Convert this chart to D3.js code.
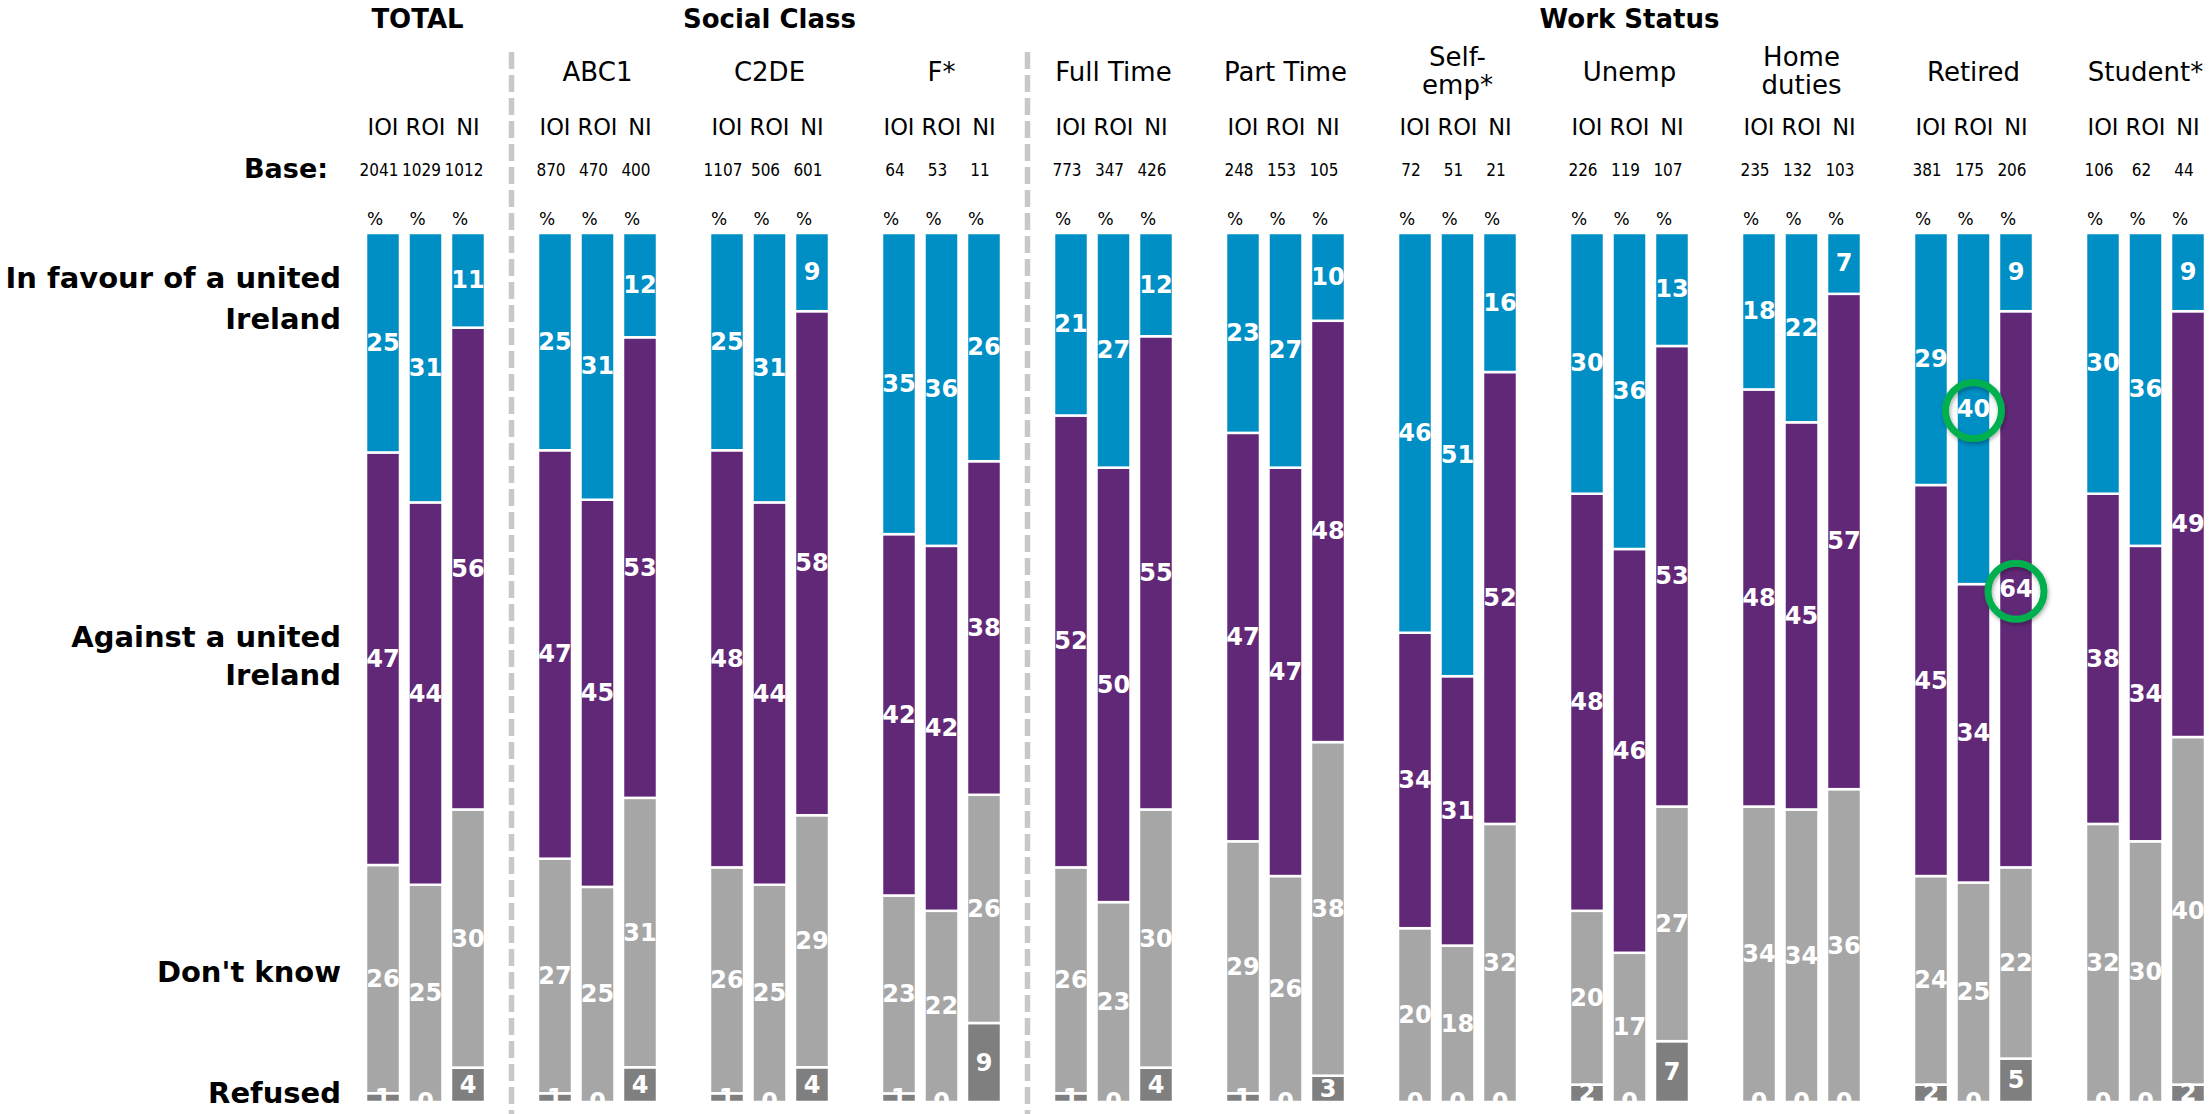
<!DOCTYPE html>
<html><head><meta charset="utf-8">
<script src="https://cdn.jsdelivr.net/npm/d3@7"></script>
<style>body{margin:0;background:#fff}svg{display:block}</style>
</head><body><svg id="chart" width="2211" height="1114"></svg>
<script>
// ---------------- DATA ----------------
const groups = ["TOTAL","ABC1","C2DE","F*","Full Time","Part Time","Self-emp*","Unemp","Home duties","Retired","Student*"];
const groupLabels = [[], ["ABC1"], ["C2DE"], ["F*"], ["Full Time"], ["Part Time"], ["Self-","emp*"], ["Unemp"], ["Home","duties"], ["Retired"], ["Student*"]];
const sections = [
  {title:"TOTAL", from:"TOTAL", to:"TOTAL"},
  {title:"Social Class", from:"ABC1", to:"F*"},
  {title:"Work Status", from:"Full Time", to:"Student*"}
];
const regions = ["IOI","ROI","NI"];
const baseSizes = [[2041,1029,1012],[870,470,400],[1107,506,601],[64,53,11],[773,347,426],[248,153,105],[72,51,21],[226,119,107],[235,132,103],[381,175,206],[106,62,44]];
const inFavour = [[25,31,11],[25,31,12],[25,31,9],[35,36,26],[21,27,12],[23,27,10],[46,51,16],[30,36,13],[18,22,7],[29,40,9],[30,36,9]];
const against  = [[47,44,56],[47,45,53],[48,44,58],[42,42,38],[52,50,55],[47,47,48],[34,31,52],[48,46,53],[48,45,57],[45,34,64],[38,34,49]];
const dontKnow = [[26,25,30],[27,25,31],[26,25,29],[23,22,26],[26,23,30],[29,26,38],[20,18,32],[20,17,27],[34,34,36],[24,25,22],[32,30,40]];
const refused  = [[1,0,4],[1,0,4],[1,0,4],[1,0,9],[1,0,4],[1,0,3],[0,0,0],[2,0,7],[0,0,0],[2,0,5],[0,0,2]];
const seriesKeys = ["refused","dontKnow","against","favour"];
const seriesLabels = {favour:["In favour of a united","Ireland"], against:["Against a united","Ireland"], dontKnow:["Don't know"], refused:["Refused"]};
const highlights = [{group:"Retired", region:"ROI", key:"favour"},{group:"Retired", region:"NI", key:"against"}];

// ---------------- CHART ----------------
const W = 2211, H = 1114;
const colors = {favour:"#008FC5", against:"#622878", dontKnow:"#A6A6A6", refused:"#7F7F7F"};
const FONT = "'DejaVu Sans', Verdana, sans-serif";
const FONT_COND = "'DejaVu Sans Condensed', 'DejaVu Sans', sans-serif";
const svg = d3.select("#chart");

const plotTop = 233, plotBottom = 1102;
const x0 = d3.scaleBand().domain(groups).range([367, 367 + 172*groups.length]).padding(0);
const x1 = d3.scaleBand().domain(regions).range([0, 117]).paddingInner(0.247).paddingOuter(0);
const y  = d3.scaleLinear().domain([0,1]).range([plotBottom, plotTop]);
const bw = x1.bandwidth();

const rows = [];
groups.forEach((g,gi) => regions.forEach((r,ri) => rows.push({
  group:g, region:r, base:baseSizes[gi][ri],
  favour:inFavour[gi][ri], against:against[gi][ri], dontKnow:dontKnow[gi][ri], refused:refused[gi][ri]
})));
const stacked = d3.stack().keys(seriesKeys).offset(d3.stackOffsetExpand)(rows);

const defs = svg.append("defs");
defs.append("clipPath").attr("id","plotclip").append("rect")
  .attr("x",0).attr("y",plotTop).attr("width",W).attr("height",plotBottom-plotTop);
const f = defs.append("filter").attr("id","shadow").attr("x","-50%").attr("y","-50%").attr("width","200%").attr("height","200%");
f.append("feDropShadow").attr("dx",1).attr("dy",2).attr("stdDeviation",2).attr("flood-opacity",0.35);

// dashed separators
const groupEnd = g => x0(g) + x1("NI") + bw;
[["TOTAL","ABC1"],["F*","Full Time"]].forEach(([a,b]) => {
  const xs = (groupEnd(a) + x0(b)) / 2;
  svg.append("line").attr("x1",xs).attr("x2",xs).attr("y1",52).attr("y2",H)
    .attr("stroke","#C8C8C8").attr("stroke-width",5.5).attr("stroke-dasharray","17 6");
});

// bars
const barG = svg.append("g");
stacked.forEach(s => {
  barG.selectAll(null).data(s).join("rect")
    .attr("x", d => x0(d.data.group) + x1(d.data.region) - 1)
    .attr("width", bw + 2)
    .attr("y", d => y(d[1]))
    .attr("height", d => Math.max(0, y(d[0]) - y(d[1])))
    .attr("fill", colors[s.key])
    .attr("stroke", "#fff").attr("stroke-width", 2.5);
});

// value labels (clipped to the plot area like the original)
const lblG = svg.append("g").attr("clip-path","url(#plotclip)");
stacked.forEach(s => {
  lblG.selectAll(null).data(s).join("text")
    .attr("x", d => x0(d.data.group) + x1(d.data.region) + bw/2)
    .attr("y", d => y((d[0]+d[1])/2))
    .attr("text-anchor","middle").attr("dominant-baseline","central")
    .attr("font-family",FONT).attr("font-weight","bold").attr("font-size",24)
    .attr("fill","#fff")
    .text(d => d.data[s.key]);
});

// highlight circles
highlights.forEach(h => {
  const s = stacked.find(t => t.key === h.key);
  const d = s.find(t => t.data.group === h.group && t.data.region === h.region);
  svg.append("circle")
    .attr("cx", x0(h.group) + x1(h.region) + bw/2)
    .attr("cy", y((d[0]+d[1])/2) + 2)
    .attr("r", 28).attr("fill","none")
    .attr("stroke","#00B050").attr("stroke-width",7).attr("filter","url(#shadow)");
});

// section headers
sections.forEach(sec => {
  const cx = (x0(sec.from) + groupEnd(sec.to)) / 2;
  svg.append("text").attr("x", sec.title === "TOTAL" ? cx - 8 : cx).attr("y", 28)
    .attr("text-anchor","middle").attr("font-family",FONT).attr("font-weight","bold").attr("font-size",26)
    .attr("fill","#000").text(sec.title);
});

// subgroup labels
groups.forEach((g,gi) => {
  const lines = groupLabels[gi];
  const cx = x0(g) + (x1("NI") + bw)/2;
  const base = lines.length === 2 ? [66, 94] : [81];
  lines.forEach((ln,li) => {
    svg.append("text").attr("x",cx).attr("y",base[li])
      .attr("text-anchor","middle").attr("font-family",FONT).attr("font-size",26)
      .attr("fill","#000").text(ln);
  });
});

// region row, base row, % row
rows.forEach(d => {
  const bx = x0(d.group) + x1(d.region);
  svg.append("text").attr("x", bx + bw/2).attr("y", 135)
    .attr("text-anchor","middle").attr("font-family",FONT).attr("font-size",22.5)
    .attr("fill","#000").text(d.region);
  svg.append("text").attr("x", bx + bw/2 - 4).attr("y", 176)
    .attr("text-anchor","middle").attr("font-family",FONT_COND).attr("font-stretch","condensed").attr("font-size",17)
    .attr("fill","#000").text(d.base);
  svg.append("text").attr("x", bx).attr("y", 225)
    .attr("text-anchor","start").attr("font-family",FONT).attr("font-size",17)
    .attr("fill","#000").text("%");
});

svg.append("text").attr("x",328).attr("y",178).attr("text-anchor","end")
  .attr("font-family",FONT).attr("font-weight","bold").attr("font-size",27).attr("fill","#000").text("Base:");

// left category labels
const leftLabelY = {favour:[278,319], against:[637,675], dontKnow:[972], refused:[1093]};
seriesKeys.forEach(k => {
  seriesLabels[k].forEach((ln,li) => {
    svg.append("text").attr("x",341).attr("y", leftLabelY[k][li])
      .attr("text-anchor","end").attr("dominant-baseline","central")
      .attr("font-family",FONT).attr("font-weight","bold").attr("font-size",29)
      .attr("fill","#000").text(ln);
  });
});
</script></body></html>
